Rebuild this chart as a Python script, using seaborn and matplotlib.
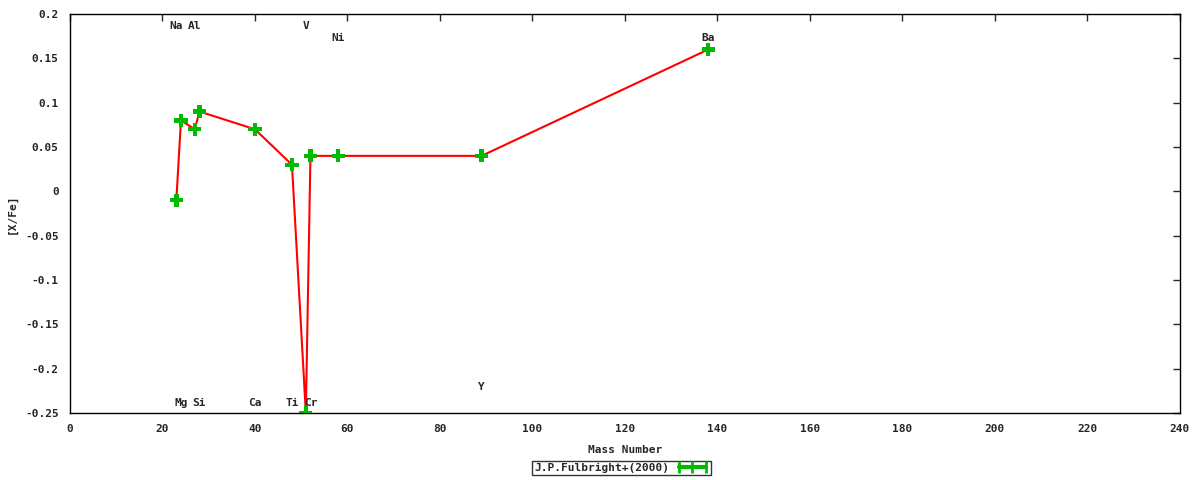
"""[X/Fe] vs mass number"""
import seaborn as sns
import matplotlib.pyplot as plt
import pandas as pd
from matplotlib.lines import Line2D

# data
elements = ['Na', 'Mg', 'Al', 'Si', 'Ca', 'Ti', 'V', 'Cr', 'Ni', 'Y', 'Ba']
mass = [23, 24, 27, 28, 40, 48, 51, 52, 58, 89, 138]
x_fe = [-0.01, 0.08, 0.07, 0.09, 0.07, 0.03, -0.25, 0.04, 0.04, 0.04, 0.16]
# where the element names sit
label_y = [0.186, -0.239, 0.186, -0.239, -0.239, -0.239, 0.186, -0.239, 0.173, -0.221, 0.173]

x_ticks = list(range(0, 241, 20))
y_ticks = [0.2, 0.15, 0.1, 0.05, 0, -0.05, -0.1, -0.15, -0.2, -0.25]
y_tick_labels = ['0.2', '0.15', '0.1', '0.05', '0', '-0.05', '-0.1', '-0.15', '-0.2', '-0.25']


def main():
    df = pd.DataFrame({'mass': mass, 'xfe': x_fe, 'el': elements})

    sns.set_style('white')
    plt.rcParams['font.family'] = ['DejaVu Sans Mono']
    plt.rcParams['font.size'] = 8
    plt.rcParams['font.weight'] = 'bold'

    fig = plt.figure(figsize=(12, 4.8), dpi=100)
    ax = fig.add_axes([0.0583, 0.1396, 0.925, 0.8312])

    sns.lineplot(data=df, x='mass', y='xfe', color='red', lw=1.5, sort=False, ax=ax)
    sns.scatterplot(data=df, x='mass', y='xfe', marker='P', s=90, color='#00bb00',
                    edgecolor='none', zorder=3, ax=ax)

    for el, m, ly in zip(elements, mass, label_y):
        ax.text(m, ly, el, ha='center', va='center', fontsize=8, fontweight='bold')

    ax.set_xlim(0, 240)
    ax.set_ylim(-0.25, 0.2)
    ax.set_xticks(x_ticks)
    ax.set_yticks(y_ticks)
    ax.set_yticklabels(y_tick_labels)
    ax.tick_params(direction='in', top=True, right=True, length=5, width=1,
                   labelsize=8, pad=8)
    for s in ax.spines.values():
        s.set_linewidth(1)
        s.set_color('black')

    ax.set_xlabel('Mass Number', fontsize=8, fontweight='bold', labelpad=8)
    ax.set_ylabel('[X/Fe]', fontsize=8, fontweight='bold', labelpad=6)

    handle = Line2D([], [], color='#00bb00', lw=3, marker='|', markersize=9,
                    markeredgewidth=2)
    leg = fig.legend([handle], ['J.P.Fulbright+(2000)'], loc='center',
                     bbox_to_anchor=(0.518, 0.025), ncol=1, frameon=True,
                     fancybox=False, numpoints=3, handlelength=3,
                     markerfirst=False, borderpad=0.2, handletextpad=0.6,
                     prop={'family': 'DejaVu Sans Mono', 'weight': 'bold', 'size': 8})
    leg.get_frame().set_edgecolor('black')
    leg.get_frame().set_linewidth(1)

    fig.savefig('out.png', dpi=100)


if __name__ == "__main__":
    main()
